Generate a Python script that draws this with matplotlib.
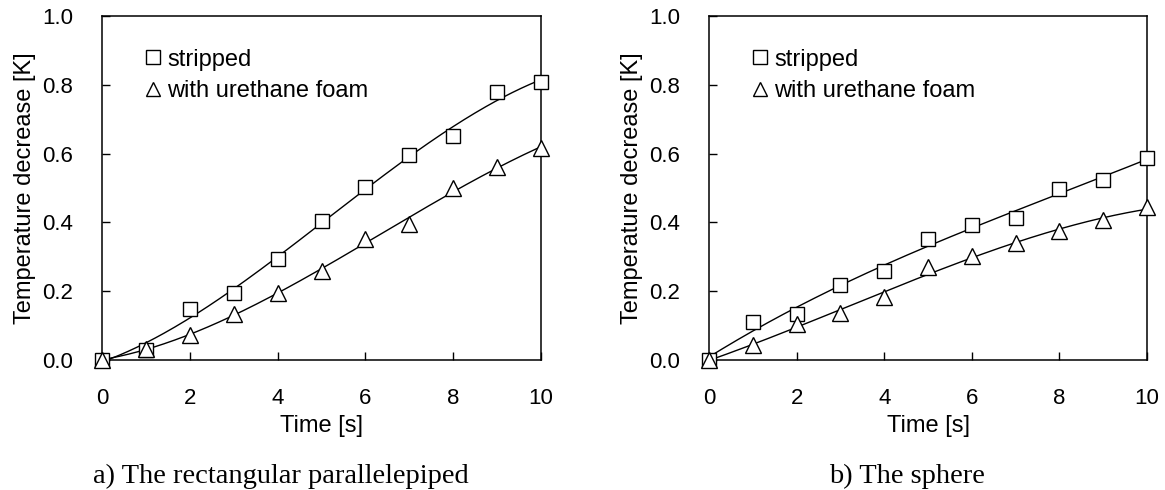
import numpy as np
import matplotlib.pyplot as plt

# time points [s]
time_s = [0, 1, 2, 3, 4, 5, 6, 7, 8, 9, 10]

# a) rectangular parallelepiped
rect_stripped = [0.0, 0.03, 0.148, 0.195, 0.295, 0.403, 0.503, 0.595, 0.651, 0.78, 0.808]
rect_foam = [0.0, 0.032, 0.073, 0.134, 0.195, 0.258, 0.353, 0.396, 0.50, 0.561, 0.617]

# b) sphere
sph_stripped = [0.0, 0.111, 0.133, 0.218, 0.26, 0.352, 0.393, 0.412, 0.498, 0.524, 0.587]
sph_foam = [0.0, 0.043, 0.104, 0.138, 0.182, 0.269, 0.303, 0.339, 0.376, 0.407, 0.444]

panels = [
    ("a) The rectangular parallelepiped", rect_stripped, rect_foam),
    ("b) The sphere", sph_stripped, sph_foam),
]

sans = "Liberation Sans"
serif = "Liberation Serif"

fig = plt.figure(figsize=(11.65, 4.9), dpi=100)
axes_pos = [[0.0876, 0.2653, 0.3768, 0.702], [0.6086, 0.2653, 0.3760, 0.702]]
caption_x = [0.2412, 0.7785]

for pos, cx, (caption, stripped, foam) in zip(axes_pos, caption_x, panels):
    ax = fig.add_axes(pos)
    t = np.array(time_s)
    tt = np.linspace(0, 10, 200)
    for y, mk, ms, lab in [(stripped, "s", 10.5, "stripped"),
                           (foam, "^", 11, "with urethane foam")]:
        # trend line (cubic fit of the measured points)
        coef = np.polyfit(t, y, 3)
        ax.plot(tt, np.polyval(coef, tt), color="black", lw=1.0)
        ax.plot(t, y, linestyle="none", marker=mk, ms=ms, mfc="white", mec="black",
                mew=1.0, clip_on=False, zorder=3, label=lab)

    ax.set_xlim(0, 10)
    ax.set_ylim(0, 1.0)
    ax.set_xticks(range(0, 11, 2))
    ax.set_yticks(np.arange(0, 1.01, 0.2))
    ax.set_yticklabels([f"{v:.1f}" for v in np.arange(0, 1.01, 0.2)])
    ax.tick_params(direction="in", length=6, width=1, labelsize=16)
    ax.tick_params(axis="x", pad=20)
    ax.tick_params(axis="y", pad=21)
    for lbl in ax.get_xticklabels() + ax.get_yticklabels():
        lbl.set_family(sans)
    for sp in ax.spines.values():
        sp.set_linewidth(1.1)
    ax.set_xlabel("Time [s]", fontsize=17, family=sans)
    ax.xaxis.set_label_coords(0.5, -0.16)
    ax.set_ylabel("Temperature decrease [K]", fontsize=17, family=sans, labelpad=4)

    ax.legend(loc="upper left", bbox_to_anchor=(0.1, 0.905), frameon=False,
              borderpad=0, borderaxespad=0, handlelength=0.6, handletextpad=0.3,
              labelspacing=0.4, markerscale=0.95, prop={"family": sans, "size": 17})

    fig.text(cx, 0.0143, caption, ha="center", va="baseline", family=serif, fontsize=20.5)

fig.savefig("out.png", dpi=100, facecolor="white")
